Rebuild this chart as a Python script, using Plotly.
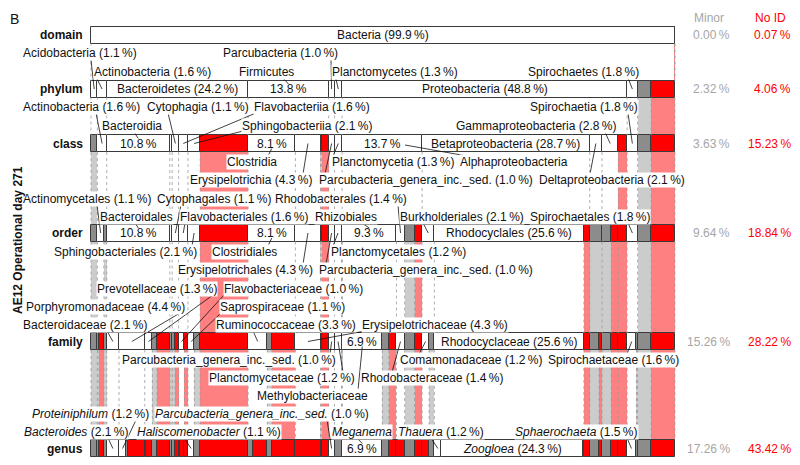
import plotly.graph_objects as go

# ---------------- data ----------------
rank_names = ["domain", "phylum", "class", "order", "family", "genus"]
minor_pct = ["0.00", "2.32", "3.63", "9.64", "15.26", "17.26"]
noid_pct = ["0.07", "4.06", "15.23", "18.84", "28.22", "43.42"]

# (name, percent, kind)  kind: w = identified, g = minor, r = no ID
domain_seg = [("Bacteria", 99.93, "w"), ("", 0.07, "r")]

phylum_seg = [("Acidobacteria", 1.1, "w"), ("Actinobacteria", 1.6, "w"), ("Bacteroidetes", 24.2, "w"),
              ("Firmicutes", 13.8, "w"), ("Parcubacteria", 1.0, "w"), ("Planctomycetes", 1.3, "w"),
              ("Proteobacteria", 48.8, "w"), ("Spirochaetes", 1.8, "w"), ("", 2.32, "g"), ("", 4.06, "r")]

class_seg = [("", 1.1, "g"), ("Actinobacteria", 1.6, "w"), ("Bacteroidia", 10.8, "w"), ("", 0.4, "w"),
             ("Cytophagia", 1.1, "w"), ("Flavobacteriia", 1.6, "w"), ("Sphingobacteriia", 2.1, "w"),
             ("", 8.2, "r"), ("Clostridia", 8.1, "w"), ("Erysipelotrichia", 4.3, "w"), ("", 0.2, "g"),
             ("", 1.2, "r"), ("Parcubacteria", 1.0, "w"), ("Planctomycetia", 1.3, "w"),
             ("Alphaproteobacteria", 13.7, "w"), ("Betaproteobacteria", 28.7, "w"),
             ("Deltaproteobacteria", 2.1, "w"), ("Gammaproteobacteria", 2.8, "w"), ("", 1.5, "r"),
             ("Spirochaetia", 1.8, "w"), ("", 2.32, "g"), ("", 4.06, "r")]

order_seg = [("", 1.1, "g"), ("Actinomycetales", 1.1, "w"), ("", 0.5, "g"), ("Bacteroidales", 10.8, "w"),
             ("", 0.4, "w"), ("Cytophagales", 1.1, "w"), ("Flavobacteriales", 1.6, "w"),
             ("Sphingobacteriales", 2.1, "w"), ("", 8.2, "r"), ("Clostridiales", 8.1, "w"),
             ("Erysipelotrichales", 4.3, "w"), ("", 0.2, "g"), ("", 1.2, "r"), ("Parcubacteria", 1.0, "w"),
             ("Planctomycetales", 1.2, "w"), ("", 0.1, "g"), ("Rhizobiales", 9.3, "w"),
             ("Rhodobacterales", 1.4, "w"), ("", 1.7, "g"), ("", 1.3, "r"), ("Burkholderiales", 2.1, "w"),
             ("Rhodocyclales", 25.6, "w"), ("", 1.0, "r"), ("", 2.1, "g"), ("", 1.6, "g"), ("", 1.2, "r"),
             ("", 1.5, "r"), ("Spirochaetales", 1.8, "w"), ("", 2.32, "g"), ("", 4.06, "r")]

family_seg = [("", 1.1, "g"), ("", 0.3, "g"), ("", 0.8, "r"), ("", 0.5, "g"), ("Bacteroidaceae", 2.1, "w"),
              ("Porphyromonadaceae", 4.4, "w"), ("Prevotellaceae", 1.3, "w"), ("", 0.8, "g"), ("", 2.2, "r"),
              ("", 0.4, "g"), ("", 0.5, "g"), ("", 0.6, "r"), ("Flavobacteriaceae", 1.0, "w"), ("", 0.6, "r"),
              ("Saprospiraceae", 1.1, "w"), ("", 1.0, "g"), ("", 8.2, "r"), ("Ruminococcaceae", 3.3, "w"),
              ("", 0.8, "g"), ("", 4.0, "r"), ("Erysipelotrichaceae", 4.3, "w"), ("", 0.2, "g"), ("", 1.2, "r"),
              ("Parcubacteria", 1.0, "w"), ("Planctomycetaceae", 1.2, "w"), ("", 0.1, "g"),
              ("Methylobacteriaceae", 6.9, "w"), ("", 1.1, "g"), ("", 1.3, "r"), ("Rhodobacteraceae", 1.4, "w"),
              ("", 1.7, "g"), ("", 1.3, "r"), ("Comamonadaceae", 1.2, "w"), ("", 0.9, "g"),
              ("Rhodocyclaceae", 25.6, "w"), ("", 1.0, "r"), ("", 1.6, "g"), ("", 0.5, "r"), ("", 1.6, "g"),
              ("", 1.2, "r"), ("", 1.5, "r"), ("Spirochaetaceae", 1.6, "w"), ("", 0.2, "g"),
              ("", 2.32, "g"), ("", 4.06, "r")]

genus_seg = [("", 1.1, "g"), ("", 0.3, "g"), ("", 0.8, "r"), ("", 0.5, "g"), ("Bacteroides", 2.1, "w"),
             ("Proteiniphilum", 1.2, "w"), ("", 0.4, "g"), ("", 2.8, "r"), ("", 0.3, "g"), ("", 1.0, "r"),
             ("", 0.8, "g"), ("", 2.2, "r"), ("", 0.4, "g"), ("", 0.5, "g"), ("", 0.6, "r"), ("", 0.3, "g"),
             ("", 0.7, "r"), ("", 0.6, "r"), ("Haliscomenobacter", 1.1, "w"), ("", 1.0, "g"), ("", 8.2, "r"),
             ("", 0.8, "g"), ("", 2.5, "r"), ("", 0.8, "g"), ("", 4.0, "r"), ("", 4.3, "r"), ("", 0.2, "g"),
             ("", 1.2, "r"), ("Parcubacteria", 1.0, "w"), ("", 1.2, "g"), ("", 0.1, "g"),
             ("Meganema", 6.9, "w"), ("", 1.1, "g"), ("", 1.3, "r"), ("", 1.4, "r"), ("", 1.7, "g"),
             ("", 1.3, "r"), ("", 1.2, "r"), ("", 0.9, "g"), ("Thauera", 1.2, "w"), ("Zoogloea", 24.3, "w"),
             ("", 0.1, "g"), ("", 1.0, "r"), ("", 1.6, "g"), ("", 0.5, "r"), ("", 1.6, "g"), ("", 1.2, "r"),
             ("", 1.5, "r"), ("Sphaerochaeta", 1.5, "w"), ("", 0.3, "g"), ("", 2.32, "g"), ("", 4.06, "r")]

row_segments = [domain_seg, phylum_seg, class_seg, order_seg, family_seg, genus_seg]

# text inside bars: (rank, segment, text)
inside_labels = [
    ("domain", "Bacteria", "Bacteria (99.9\u2009%)"),
    ("phylum", "Bacteroidetes", "Bacteroidetes (24.2\u2009%)"),
    ("phylum", "Firmicutes", "13.8\u2009%"),
    ("phylum", "Proteobacteria", "Proteobacteria (48.8\u2009%)"),
    ("class", "Bacteroidia", "10.8\u2009%"),
    ("class", "Clostridia", "8.1\u2009%"),
    ("class", "Alphaproteobacteria", "13.7\u2009%"),
    ("class", "Betaproteobacteria", "Betaproteobacteria (28.7\u2009%)"),
    ("order", "Bacteroidales", "10.8\u2009%"),
    ("order", "Clostridiales", "8.1\u2009%"),
    ("order", "Rhizobiales", "9.3\u2009%"),
    ("order", "Rhodocyclales", "Rhodocyclales (25.6\u2009%)"),
    ("family", "Methylobacteriaceae", "6.9\u2009%"),
    ("family", "Rhodocyclaceae", "Rhodocyclaceae (25.6\u2009%)"),
    ("genus", "Meganema", "6.9\u2009%"),
    ("genus", "Zoogloea", "<i>Zoogloea</i> (24.3\u2009%)"),
]

P = "\u2009%)"
# outside labels: (text, centre x px, centre y px, leader start x px, start y px, end spec)
outside_labels = [
    ("Acidobacteria (1.1" + P, 80, 53, 91, 60, ("seg", "phylum", "Acidobacteria")),
    ("Parcubacteria (1.0" + P, 280, 53, 331, 60, ("seg", "phylum", "Parcubacteria")),
    ("Actinobacteria (1.6" + P, 152, 72, 97, 79, ("seg", "phylum", "Actinobacteria")),
    ("Firmicutes", 266, 72, 283, 78, ("top", "phylum", "Firmicutes")),
    ("Planctomycetes (1.3" + P, 395, 72, 333, 67, ("seg", "phylum", "Planctomycetes")),
    ("Spirochaetes (1.8" + P, 583, 72, 628, 78, ("seg", "phylum", "Spirochaetes")),

    ("Actinobacteria (1.6" + P, 81, 107, 96, 113, ("seg", "class", "Actinobacteria")),
    ("Cytophagia (1.1" + P, 198, 107, 168, 113, ("seg", "class", "Cytophagia")),
    ("Flavobacteriia (1.6" + P, 312, 107, 256, 113, ("seg", "class", "Flavobacteriia")),
    ("Spirochaetia (1.8" + P, 584, 107, 628, 113, ("seg", "class", "Spirochaetia")),
    ("Bacteroidia", 132, 126, 134, 132, ("top", "class", "Bacteroidia")),
    ("Sphingobacteriia (2.1" + P, 307, 126, 243, 131, ("seg", "class", "Sphingobacteriia")),
    ("Gammaproteobacteria (2.8" + P, 536, 126, 605, 132, ("seg", "class", "Gammaproteobacteria")),
    ("Clostridia", 252, 162, 268, 156, ("bot", "class", "Clostridia")),
    ("Planctomycetia (1.3" + P, 393, 162, 333, 156, ("seg", "class", "Planctomycetia")),
    ("Alphaproteobacteria", 514, 162, 467, 156, ("pt", 405, 145)),
    ("Erysipelotrichia (4.3" + P, 251, 180, 303, 174, ("seg", "class", "Erysipelotrichia")),
    ("Parcubacteria_genera_inc._sed. (1.0" + P, 426, 180, 325, 174, ("seg", "class", "Parcubacteria")),
    ("Deltaproteobacteria (2.1" + P, 612, 180, 590, 174, ("seg", "class", "Deltaproteobacteria")),

    ("Actinomycetales (1.1" + P, 87, 199, 97, 205, ("seg", "order", "Actinomycetales")),
    ("Cytophagales (1.1" + P, 214, 199, 181, 205, ("seg", "order", "Cytophagales")),
    ("Rhodobacterales (1.4" + P, 341, 199, 398, 205, ("seg", "order", "Rhodobacterales")),
    ("Bacteroidales", 136, 217, 135, 223, ("top", "order", "Bacteroidales")),
    ("Flavobacteriales (1.6" + P, 244, 217, 185, 223, ("seg", "order", "Flavobacteriales")),
    ("Rhizobiales", 346, 217, 362, 223, ("top", "order", "Rhizobiales")),
    ("Burkholderiales (2.1" + P, 462, 217, 423, 223, ("seg", "order", "Burkholderiales")),
    ("Spirochaetales (1.8" + P, 590, 217, 628, 223, ("seg", "order", "Spirochaetales")),
    ("Sphingobacteriales (2.1" + P, 125, 252, 192, 246, ("seg", "order", "Sphingobacteriales")),
    ("Clostridiales", 244, 252, 268, 246, ("bot", "order", "Clostridiales")),
    ("Planctomycetales (1.2" + P, 398, 252, 333, 246, ("seg", "order", "Planctomycetales")),
    ("Erysipelotrichales (4.3" + P, 245, 270, 303, 264, ("seg", "order", "Erysipelotrichales")),
    ("Parcubacteria_genera_inc._sed. (1.0" + P, 426, 270, 326, 264, ("seg", "order", "Parcubacteria")),

    ("Prevotellaceae (1.3" + P, 157, 289, 213, 295, ("seg", "family", "Prevotellaceae")),
    ("Flavobacteriaceae (1.0" + P, 293, 289, 224, 295, ("seg", "family", "Flavobacteriaceae")),
    ("Porphyromonadaceae (4.4" + P, 105, 307, 180, 313, ("seg", "family", "Porphyromonadaceae")),
    ("Saprospiraceae (1.1" + P, 282, 307, 221, 313, ("seg", "family", "Saprospiraceae")),
    ("Bacteroidaceae (2.1" + P, 85, 325, 107, 331, ("seg", "family", "Bacteroidaceae")),
    ("Ruminococcaceae (3.3" + P, 286, 325, 253, 331, ("seg", "family", "Ruminococcaceae")),
    ("Erysipelotrichaceae (4.3" + P, 435, 325, 365, 331, ("seg", "family", "Erysipelotrichaceae")),
    ("Parcubacteria_genera_inc._sed. (1.0" + P, 229, 360, 330, 354, ("seg", "family", "Parcubacteria")),
    ("Comamonadaceae (1.2" + P, 471, 360, 419, 354, ("seg", "family", "Comamonadaceae")),
    ("Spirochaetaceae (1.6" + P, 613, 360, 627, 354, ("seg", "family", "Spirochaetaceae")),
    ("Planctomycetaceae (1.2" + P, 282, 378, 343, 372, ("seg", "family", "Planctomycetaceae")),
    ("Rhodobacteraceae (1.4" + P, 432, 378, 392, 372, ("seg", "family", "Rhodobacteraceae")),
    ("Methylobacteriaceae", 312, 396, 358, 390, ("bot", "family", "Methylobacteriaceae")),

    ("<i>Proteiniphilum</i> (1.2" + P, 90, 414, 136, 420, ("seg", "genus", "Proteiniphilum")),
    ("<i>Parcubacteria_genera_inc._sed.</i> (1.0" + P, 262, 414, 327, 420, ("seg", "genus", "Parcubacteria")),
    ("<i>Bacteroides</i> (2.1" + P, 76, 432, 108, 438, ("seg", "genus", "Bacteroides")),
    ("<i>Haliscomenobacter</i> (1.1" + P, 209, 432, 184, 438, ("seg", "genus", "Haliscomenobacter")),
    ("<i>Meganema</i>", 362, 432, 357, 438, ("top", "genus", "Meganema")),
    ("<i>Thauera</i> (1.2" + P, 441, 432, 431, 438, ("seg", "genus", "Thauera")),
    ("<i>Sphaerochaeta</i> (1.5" + P, 576, 432, 627, 438, ("seg", "genus", "Sphaerochaeta")),
]

# ---------------- layout constants ----------------
# the page body adds an 8 px margin, so the figure is drawn 8 px in from the window edge
PAGE_OFF = 8
WIN_W, WIN_H = 800, 465
W, H = WIN_W - 2 * PAGE_OFF, WIN_H - 2 * PAGE_OFF
X0, X1 = 91.0, 675.0          # window px of 0 % and 100 %
S = (X1 - X0) / 100.0
row_y = [35, 89, 143.5, 233, 341.5, 448.5]   # window px
BAR_H = 17
FONT = "Liberation Sans, Arial, Helvetica, sans-serif"
SEG_COL = {"w": "#ffffff", "g": "#8c8c8c", "r": "#ff0000"}
BAND_COL = {"g": "#cccccc", "r": "#ff8080"}


def px(x):
    """window pixel -> percent axis value"""
    return (x - X0) / S


def pap(x):
    """window pixel -> paper x"""
    return (x - PAGE_OFF) / W


# compute segment starts
rows = []
for segs in row_segments:
    starts, acc = [], 0.0
    for name, w, k in segs:
        starts.append(acc)
        acc += w
    rows.append((segs, starts))

centres = {}
for rk, (segs, starts) in zip(rank_names, rows):
    for (name, w, k), s0 in zip(segs, starts):
        if name:
            centres[(rk, name)] = s0 + w / 2.0

fig = go.Figure()

# bands between rows (minor / no ID carried down)
bx, bb, by, bw, bc = [], [], [], [], []
for i in range(len(rows) - 1):
    segs, starts = rows[i]
    top = row_y[i] + BAR_H / 2
    bot = row_y[i + 1] - BAR_H / 2
    for (name, w, k), s0 in zip(segs, starts):
        if k in BAND_COL:
            bx.append(w); bb.append(s0); by.append((top + bot) / 2); bw.append(bot - top); bc.append(BAND_COL[k])
fig.add_trace(go.Bar(x=bx, base=bb, y=by, width=bw, orientation="h",
                     marker=dict(color=bc, line=dict(width=0)), hoverinfo="skip", showlegend=False))

# bars
for i, (segs, starts) in enumerate(rows):
    fig.add_trace(go.Bar(
        x=[w for _, w, _ in segs], base=starts, y=[row_y[i]] * len(segs), width=[BAR_H] * len(segs),
        orientation="h",
        marker=dict(color=[SEG_COL[k] for _, _, k in segs], line=dict(color="#3a3a3a", width=1)),
        hoverinfo="skip", showlegend=False))

shapes = []
# dotted connectors between rows
for i in range(len(rows) - 1):
    segs, starts = rows[i]
    edges = starts + [starts[-1] + segs[-1][1]]
    for e in edges:
        shapes.append(dict(type="line", xref="x", yref="y", x0=e, x1=e,
                           y0=row_y[i] + BAR_H / 2, y1=row_y[i + 1] - BAR_H / 2,
                           line=dict(color="#9a9a9a", width=0.8, dash="dot"), layer="above"))

rank_index = {r: i for i, r in enumerate(rank_names)}
annotations = []

# leader lines + outside labels
for text, cx, cy, sx, sy, end in outside_labels:
    if end[0] == "pt":
        ex, ey = px(end[1]), end[2]
    else:
        kind, rk, name = end
        ex = centres[(rk, name)]
        ey = row_y[rank_index[rk]] + {"seg": 0, "top": -5, "bot": 5}[kind]
    shapes.append(dict(type="line", xref="x", yref="y", x0=px(sx), y0=sy, x1=ex, y1=ey,
                       line=dict(color="#111111", width=0.8), layer="above"))
    annotations.append(dict(x=px(cx), y=cy, xref="x", yref="y", text=text, showarrow=False,
                            xanchor="center", yanchor="middle", bgcolor="#ffffff", borderpad=0,
                            font=dict(family=FONT, size=12, color="#111111")))

for rk, name, text in inside_labels:
    annotations.append(dict(x=centres[(rk, name)], y=row_y[rank_index[rk]], xref="x", yref="y", text=text,
                            showarrow=False, xanchor="center", yanchor="middle",
                            font=dict(family=FONT, size=12, color="#111111")))

# rank names and summary columns
for i, rk in enumerate(rank_names):
    annotations.append(dict(x=pap(85), y=row_y[i], xref="paper", yref="y", text="<b>%s</b>" % rk,
                            showarrow=False, xanchor="right", yanchor="middle",
                            font=dict(family=FONT, size=12, color="#111111")))
    annotations.append(dict(x=pap(732), y=row_y[i], xref="paper", yref="y", text=minor_pct[i] + "\u2009%",
                            showarrow=False, xanchor="right", yanchor="middle",
                            font=dict(family=FONT, size=12, color="#a6a6a6")))
    annotations.append(dict(x=pap(793), y=row_y[i], xref="paper", yref="y", text=noid_pct[i] + "\u2009%",
                            showarrow=False, xanchor="right", yanchor="middle",
                            font=dict(family=FONT, size=12, color="#ff0000")))

TOP = PAGE_OFF + 0.5
annotations.append(dict(x=pap(709), y=TOP, xref="paper", yref="y", text="Minor", showarrow=False,
                        xanchor="center", yanchor="top", font=dict(family=FONT, size=12, color="#a6a6a6")))
annotations.append(dict(x=pap(770), y=TOP, xref="paper", yref="y", text="No ID", showarrow=False,
                        xanchor="center", yanchor="top", font=dict(family=FONT, size=12, color="#ff0000")))
annotations.append(dict(x=pap(8), y=TOP, xref="paper", yref="y", text="B", showarrow=False,
                        xanchor="left", yanchor="top", font=dict(family=FONT, size=14, color="#111111")))
annotations.append(dict(x=pap(9), y=240, xref="paper", yref="y", text="<b>AE12 Operational day 271</b>",
                        showarrow=False, textangle=-90, xanchor="left", yanchor="middle",
                        font=dict(family=FONT, size=12, color="#111111")))

fig.update_layout(
    width=W, height=H, margin=dict(l=0, r=0, t=0, b=0),
    paper_bgcolor="white", plot_bgcolor="white", barmode="overlay", bargap=0,
    xaxis=dict(range=[px(PAGE_OFF), px(PAGE_OFF + W)], visible=False, fixedrange=True),
    yaxis=dict(range=[PAGE_OFF + H, PAGE_OFF], visible=False, fixedrange=True),
    shapes=shapes, annotations=annotations, showlegend=False,
)

fig.write_html("out.html", config={"displayModeBar": False})
